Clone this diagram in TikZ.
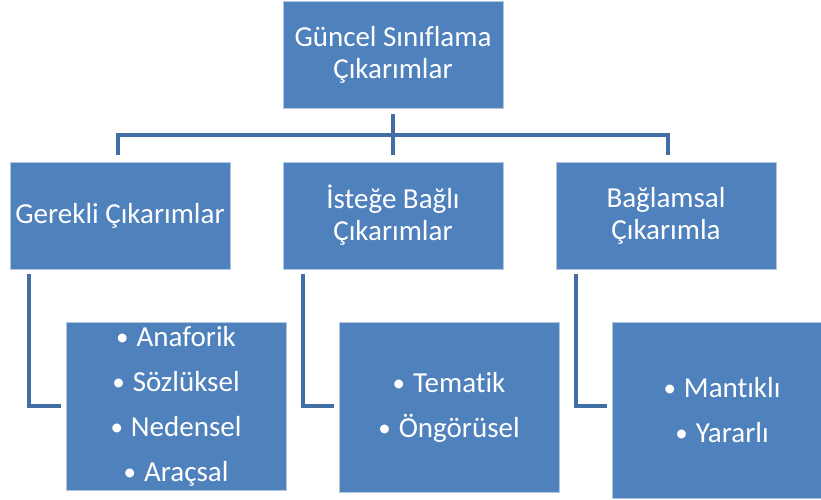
\documentclass[tikz,border=0pt]{standalone}
\usepackage{fontspec}
\setmainfont{Carlito}[Ligatures=NoCommon]
\usetikzlibrary{calc}
\definecolor{boxblue}{HTML}{4F81BD}
\definecolor{linkblue}{HTML}{416EA5}
\newcommand{\bul}{{\fontsize{25}{25}\selectfont\raisebox{1pt}{•}}\hspace{8pt}}
\begin{document}
\begin{tikzpicture}[x=1pt,y=-1pt,
  box/.style={fill=boxblue, draw=white!55!boxblue, line width=0.8pt, text=white,
    font=\fontsize{29}{32}\selectfont, align=center, minimum width=220pt, inner sep=0pt},
  listbox/.style={box, font=\fontsize{29}{45}\selectfont},
  link/.style={draw=linkblue, line width=4pt}]
\clip (0,0) rectangle (821,499);
\useasboundingbox (0,0) rectangle (821,499);
\node[box, minimum height=107pt] (top) at (393,54.5) {Güncel Sınıflama\\Çıkarımlar};
\node[box, minimum height=107pt] (g) at (120,215.5) {Gerekli Çıkarımlar};
\node[box, minimum height=107pt] (m) at (393,215.5) {İsteğe Bağlı\\Çıkarımlar};
\node[box, minimum height=107pt] (b) at (666,215.5) {Bağlamsal\\Çıkarımla};
\node[listbox, minimum height=168pt] (a) at (176,406) {\bul Anaforik\\\bul Sözlüksel\\\bul Nedensel\\\bul Araçsal};
\node[listbox, minimum height=170pt] (t) at (449,407) {\bul Tematik\\\bul Öngörüsel};
\node[listbox, minimum height=176pt] (y) at (722,410) {\bul Mantıklı\\\bul Yararlı};
\coordinate (bus) at (393,135);
\draw[link] ($(top.south)+(0,6)$) -- ($(m.north)+(0,-7)$);
\draw[link] ($(g.north)+(-2,-7)$) |- (bus) -| ($(b.north)+(2,-7)$);
\draw[link] ($(g.south west)+(19,5)$) |- ($(a.west)+(-5,0)$);
\draw[link] ($(m.south west)+(20,5)$) |- ($(t.west)+(-5,-1)$);
\draw[link] ($(b.south west)+(20,5)$) |- ($(y.west)+(-5,-4)$);
\end{tikzpicture}
\end{document}
